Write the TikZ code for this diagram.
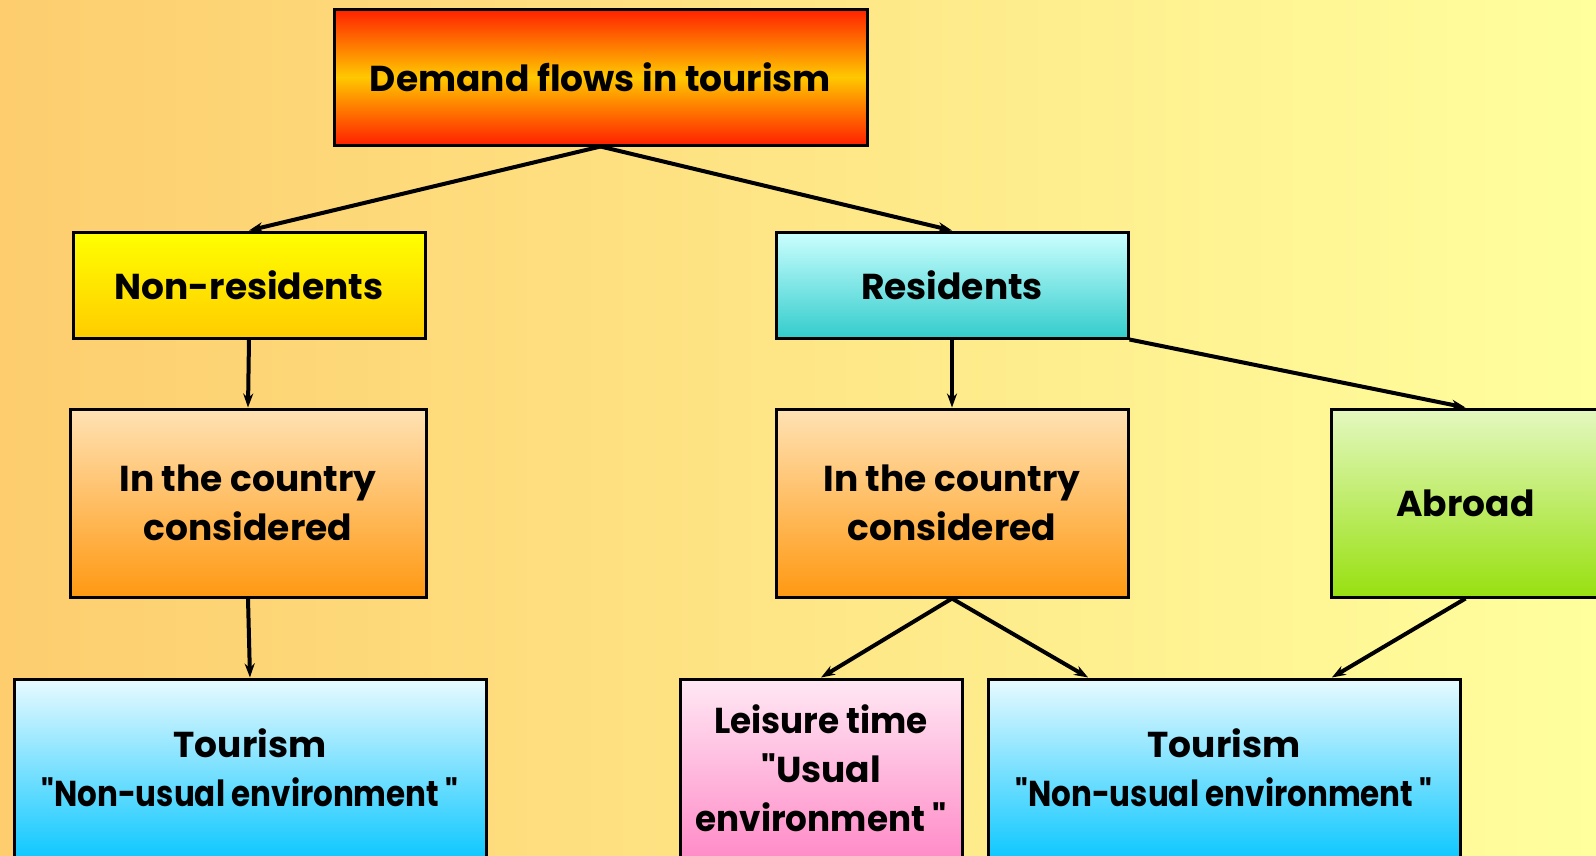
\documentclass[tikz,border=0pt]{standalone}
\usepackage{fontspec}
\setmainfont{Poppins}[Ligatures=TeXOff]
\usetikzlibrary{arrows.meta,calc}
\definecolor{bgL}{HTML}{FDCD6E}
\definecolor{bgR}{HTML}{FFFF9E}
\definecolor{topRed}{HTML}{FF2000}
\definecolor{topMid}{HTML}{FFC800}
\definecolor{nrTop}{HTML}{FFFF00}
\definecolor{nrBot}{HTML}{FFCC00}
\definecolor{rsTop}{HTML}{CCFFFF}
\definecolor{rsBot}{HTML}{33CCCC}
\definecolor{icTop}{HTML}{FFE2B4}
\definecolor{icBot}{HTML}{FF9912}
\definecolor{abTop}{HTML}{E4F8C0}
\definecolor{abBot}{HTML}{98E010}
\definecolor{tuTop}{HTML}{E8FAFF}
\definecolor{tuBot}{HTML}{10C8FF}
\definecolor{lsTop}{HTML}{FFE8F4}
\definecolor{lsBot}{HTML}{FF8CC8}
\begin{document}
\begin{tikzpicture}[x=1pt,y=-1pt,
  box/.style={draw=black, line width=3pt, inner sep=0pt, align=center,
    font=\bfseries\fontsize{36}{49}\selectfont},
  conn/.style={draw=black, line width=4pt, -{Stealth[length=14pt,width=10pt]}}]
\useasboundingbox (0,0) rectangle (1596,855);
\begin{scope}
\clip (0,0) rectangle (1596,855);
\shade[left color=bgL, right color=bgR] (0,0) rectangle (1596,855);
\node[box, top color=topRed, bottom color=topRed, middle color=topMid,
  minimum width=533pt, minimum height=136pt] (top) at (600.5,77) {Demand flows in tourism};
\node[box, top color=nrTop, bottom color=nrBot,
  minimum width=352pt, minimum height=106pt] (nonres) at (249,285) {Non-residents};
\node[box, top color=rsTop, bottom color=rsBot,
  minimum width=352pt, minimum height=106pt] (res) at (952,285) {Residents};
\node[box, top color=icTop, bottom color=icBot,
  minimum width=356pt, minimum height=188pt] (icl) at (248,503) {In the country\\considered};
\node[box, top color=icTop, bottom color=icBot,
  minimum width=352pt, minimum height=188pt] (icr) at (952,503) {In the country\\considered};
\node[box, top color=abTop, bottom color=abBot,
  minimum width=269pt, minimum height=188pt] (abroad) at (1465.5,503) {Abroad};
\node[box, top color=tuTop, bottom color=tuBot,
  minimum width=472pt, minimum height=178pt] (tl) at (250,768) {Tourism\\\scalebox{0.86}[1]{"Non-usual environment "}};
\node[box, top color=lsTop, bottom color=lsBot,
  minimum width=282pt, minimum height=178pt] (leis) at (821,768) {\scalebox{0.95}[1]{Leisure time}\\"Usual\\\scalebox{0.95}[1]{environment "}};
\node[box, top color=tuTop, bottom color=tuBot,
  minimum width=472pt, minimum height=178pt] (tr) at (1224,768) {Tourism\\\scalebox{0.86}[1]{"Non-usual environment "}};
\coordinate (trA) at ($(tr.north west)!0.214!(tr.north east)$);
\coordinate (trB) at ($(tr.north west)!0.727!(tr.north east)$);
\draw[conn] (top.south) -- (nonres.north);
\draw[conn] (top.south) -- (res.north);
\draw[conn] (nonres.south) -- (icl.north);
\draw[conn] (icl.south) -- (tl.north);
\draw[conn] (res.south) -- (icr.north);
\draw[conn] (res.south east) -- (abroad.north);
\draw[conn] (icr.south) -- (leis.north);
\draw[conn] (icr.south) -- (trA);
\draw[conn] (abroad.south) -- (trB);
\end{scope}
\end{tikzpicture}
\end{document}
